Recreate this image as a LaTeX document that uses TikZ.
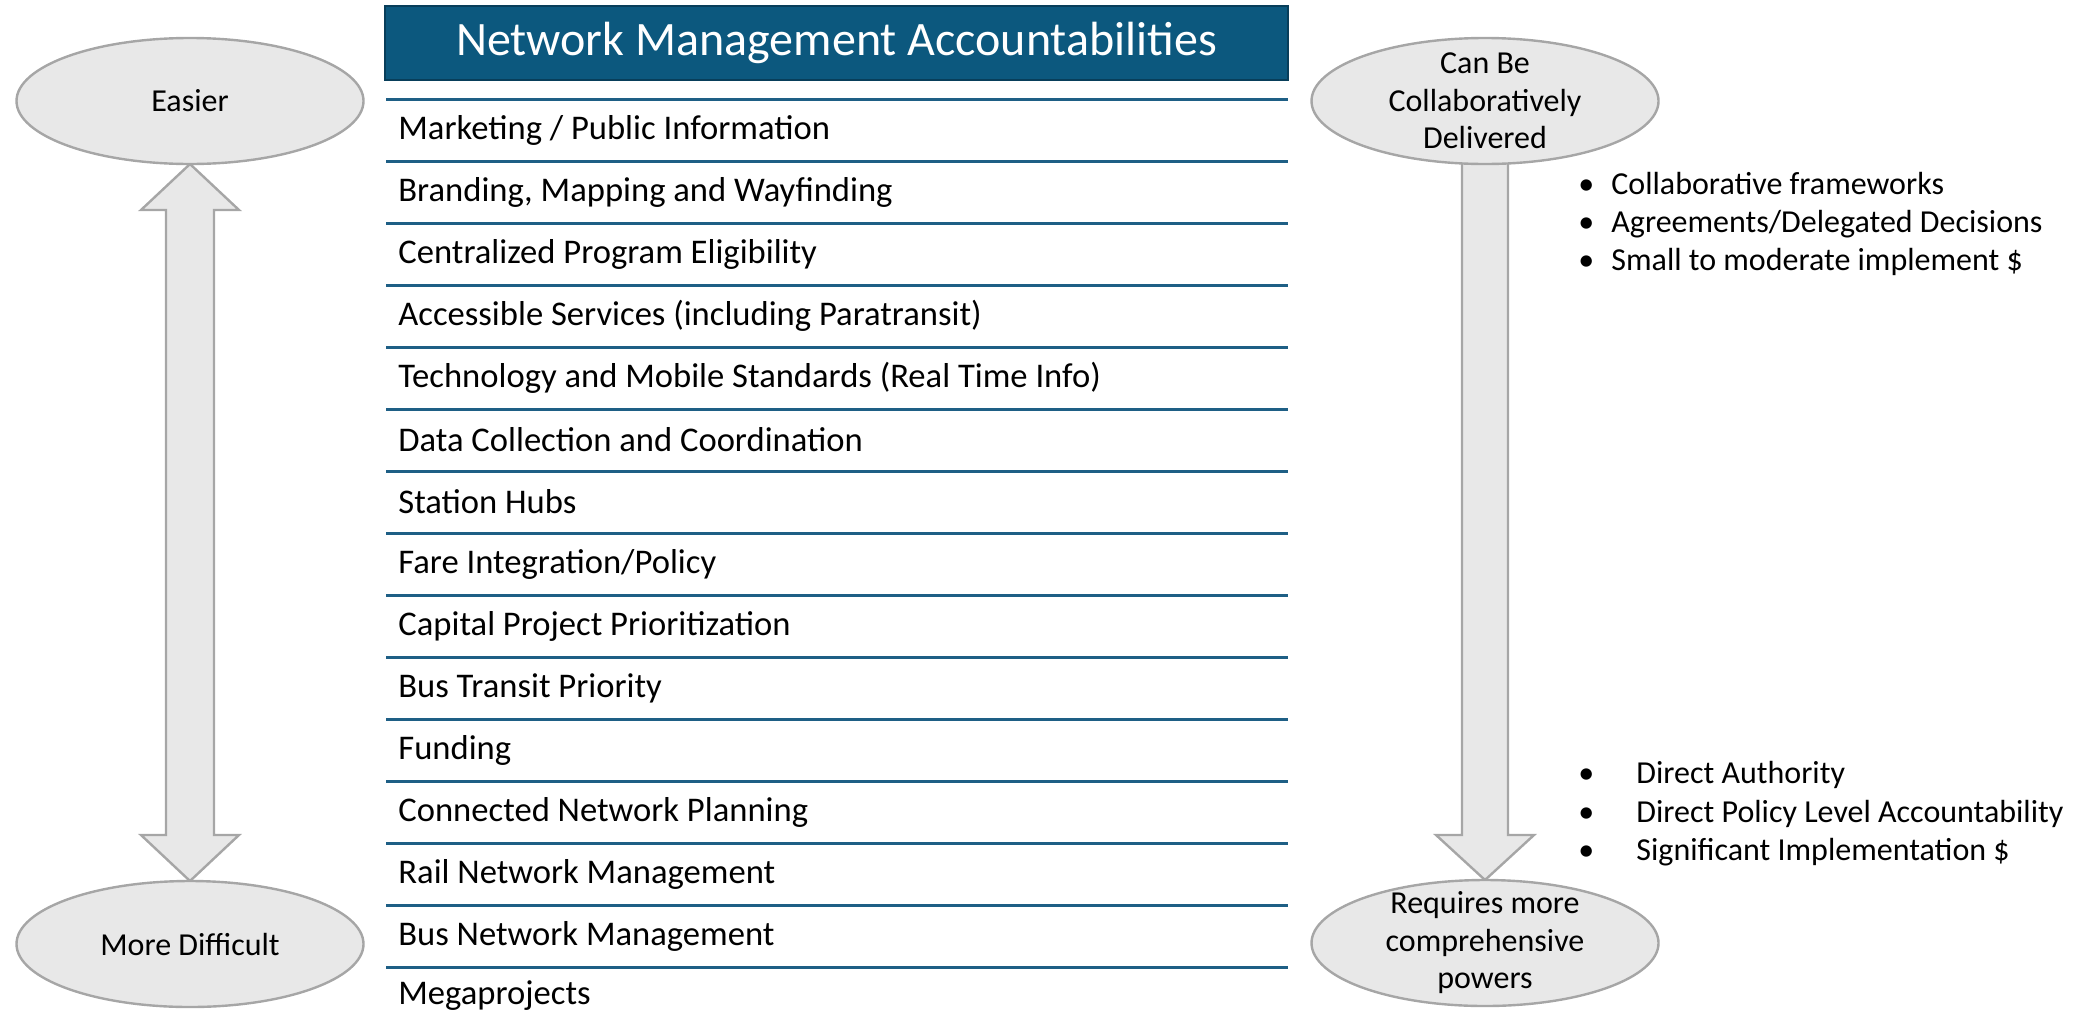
\documentclass[tikz,border=0pt]{standalone}
\usepackage{fontspec}
\setmainfont{Carlito}
\usetikzlibrary{shapes,arrows,positioning,calc,backgrounds}
\definecolor{headblue}{RGB}{12,88,126}
\definecolor{headedge}{RGB}{8,62,90}
\definecolor{rowline}{RGB}{30,95,133}
\definecolor{ovalfill}{RGB}{232,232,232}
\definecolor{ovaledge}{RGB}{166,166,166}
\tikzset{
  oval/.style={ellipse,draw=ovaledge,fill=ovalfill,line width=1.2pt,minimum width=173.5pt,minimum height=63pt,inner sep=0pt,outer sep=0pt,font=\fontsize{16pt}{18.75pt}\selectfont},
  ovaltext/.style={align=center,inner sep=0pt,font=\fontsize{16pt}{18.75pt}\selectfont},
  item/.style={anchor=west,inner sep=0pt,font=\fontsize{17.3pt}{20pt}\selectfont},
  header/.style={draw=headedge,fill=headblue,line width=1pt,text=white,minimum width=451.5pt,minimum height=37pt,font=\fontsize{24pt}{28pt}\selectfont},
  sep/.style={draw=rowline,line width=1.5pt},
  blockarrow/.style={draw=ovaledge,fill=ovalfill,line width=1.2pt,line join=miter},
  bullets/.style={anchor=west,align=left,inner sep=0pt,font=\fontsize{16pt}{19.2pt}\selectfont}
}
\newcommand{\bul}[1]{\makebox[#1][l]{\textbullet}}

\begin{document}
\begin{tikzpicture}[x=0.5pt,y=-0.5pt]
\useasboundingbox (0,0) rectangle (2080,1012);
%Kopf
\node[header] (title) at (836.5,43) {Network Management Accountabilities};
%Trennlinien
\foreach \k in {0,...,14}
  \draw[sep] (386,99+62*\k) -- (1288,99+62*\k);
%Zeilen
\node[item] (r1) at (398,130) {Marketing / Public Information};
\node[item] (r2) at (398,192) {Branding, Mapping and Wayfinding};
\node[item] (r3) at (398,254) {Centralized Program Eligibility};
\node[item] (r4) at (398,316) {Accessible Services (including Paratransit)};
\node[item] (r5) at (398,378) {Technology and Mobile Standards (Real Time Info)};
\node[item] (r6) at (398,440) {Data Collection and Coordination};
\node[item] (r7) at (398,502) {Station Hubs};
\node[item] (r8) at (398,564) {Fare Integration/Policy};
\node[item] (r9) at (398,626) {Capital Project Prioritization};
\node[item] (r10) at (398,688) {Bus Transit Priority};
\node[item] (r11) at (398,750) {Funding};
\node[item] (r12) at (398,812) {Connected Network Planning};
\node[item] (r13) at (398,874) {Rail Network Management};
\node[item] (r14) at (398,936) {Bus Network Management};
\node[item] (r15) at (398,996) {Megaprojects};
%Linke Seite
\node[oval] (easier) at (190,101) {Easier};
\node[oval] (harder) at (190,944) {More Difficult};
%Rechte Seite
\node[oval] (coll) at (1485,101) {};
\node[ovaltext] (collt) at (coll) {Can Be\\Collaboratively\\Delivered};
\node[oval] (req) at (1485,943) {};
\node[ovaltext] (reqt) at (req) {Requires more\\comprehensive\\powers};
%Pfeile
\begin{scope}[on background layer]
\draw[blockarrow] (easier.south) -- ++(49,46) -- ++(-25,0) -- ($(harder.north)+(24,-46)$) -- ++(25,0) -- (harder.north) -- ++(-49,-46) -- ++(25,0) -- ($(easier.south)+(-24,46)$) -- ++(-25,0) -- cycle;
\draw[blockarrow] ($(coll.south)+(-23,-10)$) -- ($(req.north)+(-23,-45)$) -- ++(-26,0) -- (req.north) -- ++(49,-45) -- ++(-26,0) -- ($(coll.south)+(23,-10)$);
\end{scope}
%Aufzaehlungen
\node[bullets] (easy) at (1578,224) {\bul{16.5pt}Collaborative frameworks\\\bul{16.5pt}Agreements/Delegated Decisions\\\bul{16.5pt}Small to moderate implement \$};
\node[bullets] (hard) at (1578,814) {\bul{29pt}Direct Authority\\\bul{29pt}Direct Policy Level Accountability\\\bul{29pt}Significant Implementation \$};
\end{tikzpicture}
\end{document}
